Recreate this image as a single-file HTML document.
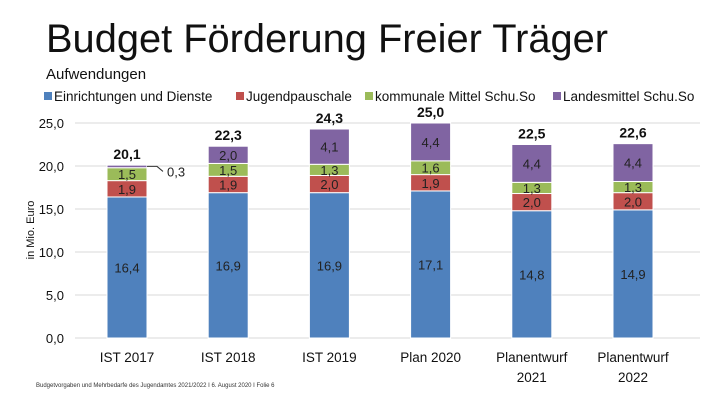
<!DOCTYPE html>
<html><head><meta charset="utf-8"><style>
body{margin:0;width:720px;height:405px;background:#fff;font-family:"Liberation Sans",sans-serif;overflow:hidden}
</style></head><body>
<svg width="720" height="405" style="position:absolute;left:0;top:0">
<text x="46" y="52" font-size="40" fill="#111" textLength="562" lengthAdjust="spacingAndGlyphs">Budget Förderung Freier Träger</text>
<text x="46" y="79" font-size="15" fill="#111">Aufwendungen</text>
<g id="legend"></g>
<text transform="translate(34,230) rotate(-90)" text-anchor="middle" font-size="11" fill="#111">in Mio. Euro</text>
<g id="grid"></g><g id="bars"></g>
<text x="36" y="387" font-size="6" fill="#333">Budgetvorgaben und Mehrbedarfe des Jugendamtes 2021/2022 I 6. August 2020 I Folie 6</text>
</svg>
<script>
const categories=["IST 2017","IST 2018","IST 2019","Plan 2020","Planentwurf|2021","Planentwurf|2022"];
const einrichtungen=[16.4,16.9,16.9,17.1,14.8,14.9];
const jugend=[1.9,1.9,2.0,1.9,2.0,2.0];
const kommunal=[1.5,1.5,1.3,1.6,1.3,1.3];
const landes=[0.3,2.0,4.1,4.4,4.4,4.4];
const totals=[20.1,22.3,24.3,25.0,22.5,22.6];
const ticks=[0,5,10,15,20,25];
const seriesNames=["Einrichtungen und Dienste","Jugendpauschale","kommunale Mittel Schu.So","Landesmittel Schu.So"];
const colors=["#4f81bd","#c0504d","#9bbb59","#8064a2"];
const NS="http://www.w3.org/2000/svg";
const y=v=>338-v*8.6;
const x=i=>127+i*101.2;
const fmt=v=>v.toFixed(1).replace('.',',');
function mk(tag,attrs,parent,text){const e=document.createElementNS(NS,tag);for(const k in attrs)e.setAttribute(k,attrs[k]);if(text!==undefined)e.textContent=text;parent.appendChild(e);return e;}
const grid=document.getElementById('grid'),bars=document.getElementById('bars'),leg=document.getElementById('legend');
ticks.forEach(t=>{
 const l=mk('line',{x1:75,x2:700,y1:y(t),y2:y(t),stroke:"#d9d9d9","stroke-width":1},grid);
 
 
 const tx=mk('text',{x:64,y:y(t)+5,"text-anchor":"end","font-size":13,fill:"#111"},grid,fmt(t));
 
 
});
const lx=[44,236,365,553];
seriesNames.forEach((n,i)=>{
 const r=mk('rect',{x:lx[i],y:92,width:8,height:8,fill:colors[i]},leg);
 
 
 const t=mk('text',{x:lx[i]+10,y:101,"font-size":13.5,fill:"#111"},leg,n);
 
 
});
const series=[einrichtungen,jugend,kommunal,landes];
categories.forEach((c,i)=>{
 let base=0;
 series.forEach((s,k)=>{
  const v=s[i];
  const r=mk('rect',{x:x(i)-20,y:y(base+v),width:40,height:v*8.6,fill:colors[k],stroke:"#fff","stroke-width":1},bars);
  
  
  if(v>=1){
   const t=mk('text',{x:x(i),y:y(base+v/2)+5,"text-anchor":"middle","font-size":13,fill:"#222"},bars,fmt(v));
   
   
  } else {
   const ly=y(base+v/2);
   const p=mk('path',{d:`M${x(i)+20} ${ly} L${x(i)+30} ${ly} L${x(i)+36} ${ly+5}`,stroke:"#333",fill:"none"},bars);
   
   
   const t=mk('text',{x:x(i)+40,y:ly+10,"font-size":13,fill:"#222"},bars,fmt(v));
   
   
  }
  base+=v;
 });
 const tt=mk('text',{x:x(i),y:y(base)-6,"text-anchor":"middle","font-size":14,"font-weight":"bold",fill:"#111"},bars,fmt(totals[i]));
 
 
 c.split('|').forEach((ln,j)=>{
  const t=mk('text',{x:x(i),y:362+j*20,"text-anchor":"middle","font-size":13.5,fill:"#111"},bars,ln);
  
  
 });
});
</script>
</body></html>
